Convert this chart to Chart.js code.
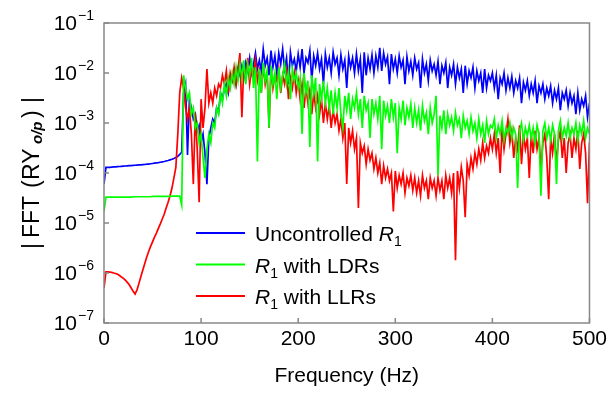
<!DOCTYPE html>
<html>
<head>
<meta charset="utf-8">
<title>|FFT (RY o/p)| spectrum</title>
<script src="https://cdn.jsdelivr.net/npm/chart.js@4.4.1/dist/chart.umd.min.js"></script>
<style>
  html, body { margin: 0; padding: 0; background: #fff; }
  #wrap { width: 611px; height: 395px; }
</style>
</head>
<body>
<div id="wrap"><canvas id="fftChart" width="611" height="395"></canvas></div>
<script>
// ----------------------------
// 1. Data (one value every 2 Hz from 0 to 500 Hz)
// ----------------------------
const FREQ_STEP = 2;
const FREQ = Array.from({ length: 251 }, (_, i) => i * FREQ_STEP);

const BLUE_UNCONTROLLED = [
  6e-5, 1.3e-4, 1.3e-4, 1.3e-4, 1.31e-4, 1.32e-4, 1.33e-4, 1.34e-4, 1.35e-4, 1.36e-4,
  1.37e-4, 1.38e-4, 1.39e-4, 1.4e-4, 1.41e-4, 1.42e-4, 1.43e-4, 1.44e-4, 1.45e-4, 1.46e-4,
  1.47e-4, 1.48e-4, 1.5e-4, 1.51e-4, 1.53e-4, 1.55e-4, 1.57e-4, 1.59e-4, 1.61e-4, 1.64e-4,
  1.67e-4, 1.7e-4, 1.74e-4, 1.78e-4, 1.83e-4, 1.88e-4, 1.95e-4, 2.03e-4, 2.15e-4, 2.35e-4,
  2.6e-4, 4e-3, 6e-3, 2.3e-4, 3e-3, 2e-3, 1.2e-3, 1.5e-3, 7e-4, 9e-4,
  4e-4, 6e-4, 2.5e-4, 6e-5, 5e-4, 8e-4, 1.2e-3, 1e-3, 2e-3, 1.6e-3,
  4e-3, 3e-3, 5e-3, 6e-3, 4e-3, 8e-3, 7e-3, 1e-2, 6e-3, 1.2e-2,
  9e-3, 1.4e-2, 8e-3, 1.6e-2, 1.1e-2, 2e-2, 1e-2, 1.5e-2, 2.5e-2, 1.2e-2,
  1.8e-2, 1.1e-2, 3e-2, 1.4e-2, 2e-2, 9e-3, 2.8e-2, 1.3e-2, 2.2e-2, 1e-2,
  2.5e-2, 1.5e-2, 3e-2, 1.2e-2, 2e-2, 6e-3, 2.6e-2, 1.4e-2, 1.9e-2, 1.1e-2,
  2.4e-2, 1.3e-2, 3e-2, 1e-2, 2e-2, 1.6e-2, 2.8e-2, 7e-3, 2.2e-2, 1.4e-2,
  2.5e-2, 1.2e-2, 1.9e-2, 6e-3, 2.4e-2, 1.3e-2, 2e-2, 1e-2, 2.6e-2, 1.5e-2,
  2e-2, 9e-3, 2.3e-2, 1.2e-2, 1.8e-2, 5e-3, 2.2e-2, 1.3e-2, 2e-2, 1e-2,
  2.4e-2, 1.1e-2, 1.9e-2, 4e-3, 2.6e-2, 9e-3, 2e-2, 1.2e-2, 2.3e-2, 1e-2,
  2.2e-2, 1.3e-2, 3.2e-2, 1.1e-2, 2.5e-2, 1.5e-2, 2.1e-2, 6e-3, 2.4e-2, 1.2e-2,
  1.9e-2, 1e-2, 2.2e-2, 1.3e-2, 1.8e-2, 6e-3, 2.1e-2, 1.1e-2, 1.7e-2, 9e-3,
  2e-2, 1.2e-2, 1.6e-2, 5e-3, 1.9e-2, 1e-2, 1.5e-2, 7e-3, 1.8e-2, 1.1e-2,
  1.5e-2, 9e-3, 1.7e-2, 6e-3, 1.4e-2, 1e-2, 1.6e-2, 5e-3, 1.3e-2, 9e-3,
  1.5e-2, 6e-3, 1.3e-2, 8e-3, 1.2e-2, 4e-3, 1.4e-2, 6e-3, 1.1e-2, 8e-3,
  1.3e-2, 5e-3, 1.1e-2, 7e-3, 1e-2, 4e-3, 1.2e-2, 5e-3, 9e-3, 7e-3,
  1e-2, 5e-3, 9e-3, 3e-3, 8e-3, 6e-3, 1e-2, 4.5e-3, 8e-3, 5e-3,
  8.5e-3, 4e-3, 7e-3, 5e-3, 8e-3, 2.5e-3, 6.5e-3, 4.5e-3, 7e-3, 3.5e-3,
  6e-3, 4e-3, 7e-3, 2.5e-3, 5.5e-3, 4e-3, 6e-3, 3e-3, 5e-3, 3.5e-3,
  5.5e-3, 2.5e-3, 4.5e-3, 3e-3, 5e-3, 1.8e-3, 4e-3, 3e-3, 4.5e-3, 2.2e-3,
  4e-3, 2.5e-3, 3.5e-3, 1.5e-3, 4e-3, 1.8e-3, 3e-3, 2.2e-3, 3.5e-3, 1.3e-3,
  2.5e-3
];

const GREEN_LDR = [
  1.7e-5, 3.3e-5, 3.3e-5, 3.3e-5, 3.3e-5, 3.3e-5, 3.3e-5, 3.3e-5, 3.3e-5, 3.3e-5,
  3.3e-5, 3.3e-5, 3.3e-5, 3.3e-5, 3.3e-5, 3.35e-5, 3.35e-5, 3.35e-5, 3.35e-5, 3.35e-5,
  3.35e-5, 3.35e-5, 3.35e-5, 3.35e-5, 3.35e-5, 3.4e-5, 3.4e-5, 3.4e-5, 3.4e-5, 3.4e-5,
  3.4e-5, 3.4e-5, 3.4e-5, 3.4e-5, 3.4e-5, 3.45e-5, 3.45e-5, 3.45e-5, 3.45e-5, 3.45e-5,
  2.3e-5, 9e-3, 5e-3, 3e-3, 4e-3, 1.5e-3, 2e-3, 8e-4, 1e-3, 4e-4,
  6e-4, 2e-4, 8e-5, 3e-4, 6e-4, 4e-4, 1e-3, 8e-4, 2e-3, 1.5e-3,
  4e-3, 2.5e-3, 6e-3, 3.5e-3, 8e-3, 5e-3, 1e-2, 6e-3, 1.3e-2, 7e-3,
  1.5e-2, 8e-3, 1.8e-2, 6e-3, 1.5e-2, 9e-3, 2e-2, 5e-3, 1.3e-2, 1.7e-4,
  1.2e-2, 4e-3, 1.6e-2, 7e-3, 1.1e-2, 8e-4, 1.4e-2, 6e-3, 1e-2, 3e-3,
  1.3e-2, 5e-3, 9e-3, 1.5e-2, 6e-3, 1.1e-2, 3e-3, 1.2e-2, 7e-3, 1e-2,
  5e-3, 8e-3, 6e-4, 1e-2, 4e-3, 7e-3, 3.3e-4, 9e-3, 4e-3, 8e-3,
  1.7e-4, 6e-3, 3e-3, 7e-3, 2.5e-3, 5e-3, 2e-3, 4.5e-3, 1.5e-3, 4e-3,
  2e-3, 5e-3, 1.5e-3, 8e-4, 3.5e-3, 1.8e-3, 4e-3, 1.2e-3, 3e-3, 2e-3,
  4e-3, 1.5e-3, 3e-3, 8e-4, 3.5e-3, 1.8e-3, 2.5e-3, 5e-4, 3e-3, 1.5e-3,
  2.5e-3, 1.2e-3, 3.5e-3, 3e-4, 2.8e-3, 1.4e-3, 2.2e-3, 1e-3, 3e-3, 1.3e-3,
  2.5e-3, 2.5e-4, 2e-3, 1.2e-3, 2.8e-3, 9e-4, 2e-3, 1.3e-3, 2.4e-3, 8e-4,
  2e-3, 1e-3, 1.8e-3, 7e-4, 2.2e-3, 1.1e-3, 1.6e-3, 6e-4, 2e-3, 1e-3,
  1.5e-3, 3.5e-3, 9e-5, 1.4e-3, 8e-4, 1.8e-3, 6e-4, 1.5e-3, 9e-4, 1.3e-3,
  7e-4, 1.6e-3, 9e-4, 1.2e-3, 5e-4, 1.4e-3, 8e-4, 1.1e-3, 6e-4, 1.3e-3,
  7e-4, 1e-3, 5e-4, 1.2e-3, 6e-4, 9e-4, 4e-4, 1.1e-3, 6e-4, 9e-4,
  8e-4, 1.2e-3, 5e-4, 9e-4, 6e-4, 1.1e-3, 4.5e-4, 8e-4, 6e-4, 1e-3,
  5e-4, 8e-4, 6e-4, 5e-5, 7e-4, 1e-3, 4.5e-4, 8e-4, 5.5e-4, 9e-4,
  5e-4, 8e-4, 4e-4, 9e-4, 6e-4, 3.5e-5, 7e-4, 1e-3, 5e-4, 8e-4,
  4.5e-4, 9e-4, 6e-4, 6e-5, 7e-4, 1.1e-3, 5e-4, 8e-4, 5.5e-4, 1e-3,
  5e-4, 8e-4, 6e-4, 1e-3, 4.5e-4, 9e-4, 6e-4, 1.1e-3, 5e-4, 8e-4,
  6e-4
];

const RED_LLR = [
  5e-7, 1.05e-6, 1.05e-6, 1.04e-6, 1.03e-6, 1e-6, 9.8e-7, 9.4e-7, 8.9e-7, 8.3e-7,
  7.8e-7, 7.2e-7, 6.5e-7, 5.8e-7, 5e-7, 4.3e-7, 3.8e-7, 4.6e-7, 6.2e-7, 8.5e-7,
  1.15e-6, 1.55e-6, 2.1e-6, 2.7e-6, 3.4e-6, 4.2e-6, 5.2e-6, 6.3e-6, 7.8e-6, 9.6e-6,
  1.2e-5, 1.5e-5, 2e-5, 2.6e-5, 3.5e-5, 5e-5, 8e-5, 1.3e-4, 6e-4, 4e-3,
  8e-3, 5e-3, 2e-3, 1.2e-3, 2e-3, 6e-4, 6e-5, 1.6e-3, 3e-4, 2.6e-5,
  3e-3, 8e-4, 2e-3, 1.2e-2, 2.5e-3, 4e-3, 2.5e-3, 5e-3, 3.5e-3, 6e-3,
  5e-3, 9e-3, 6e-3, 1.1e-2, 4e-3, 1e-2, 7e-3, 1.3e-2, 6e-3, 1.2e-2,
  2.5e-2, 1.3e-3, 1.4e-2, 8e-3, 2e-2, 6e-3, 1.2e-2, 9e-3, 1.8e-2, 7e-3,
  1.1e-2, 4e-3, 1.5e-2, 6e-3, 1e-2, 8e-4, 1.3e-2, 5e-3, 9e-3, 7e-3,
  1.2e-2, 4e-3, 9e-3, 6e-3, 1.1e-2, 3e-3, 8e-3, 5e-3, 1e-2, 4e-3,
  7e-3, 3e-3, 6e-3, 2e-3, 5e-3, 2.5e-3, 4.5e-3, 1.5e-3, 4e-3, 2e-3,
  3.5e-3, 1.5e-3, 3e-3, 1e-3, 2.5e-3, 1.2e-3, 2.2e-3, 8e-4, 1.8e-3, 1e-3,
  1.5e-3, 7e-4, 1.2e-3, 5e-4, 1e-3, 6e-5, 8e-4, 4e-4, 7e-4, 3e-4,
  5e-4, 2e-5, 4e-4, 2.5e-4, 3.5e-4, 1.5e-4, 3e-4, 1.8e-4, 2.5e-4, 1.2e-4,
  2e-4, 1e-4, 1.6e-4, 6e-5, 1.4e-4, 8e-5, 1.2e-4, 7e-5, 1e-4, 1.7e-5,
  1.1e-4, 5e-5, 9e-5, 6e-5, 1e-4, 4e-5, 8e-5, 5.5e-5, 9e-5, 4.5e-5,
  8e-5, 4e-5, 7e-5, 3.5e-5, 9e-5, 5e-5, 7e-5, 3e-5, 8e-5, 5e-5,
  7e-5, 3.5e-5, 8e-5, 4.5e-5, 7e-5, 3e-5, 9e-5, 5e-5, 8e-5, 4e-5,
  1e-4, 1.8e-6, 1.1e-4, 5e-5, 1.3e-4, 7e-5, 1.3e-5, 1.5e-4, 9e-5, 2e-4,
  1.2e-4, 2.5e-4, 1.5e-4, 3e-4, 1.8e-4, 4e-4, 2e-4, 3.5e-4, 2.5e-4, 5e-4,
  3e-4, 6e-4, 2.5e-4, 5e-4, 1e-4, 8e-4, 3e-4, 6e-4, 1.2e-3, 4e-4,
  7e-4, 2e-4, 5e-4, 3e-4, 9e-4, 1.5e-4, 6e-4, 3e-4, 5e-4, 8e-5,
  6e-4, 2.5e-4, 7e-4, 3e-4, 5e-4, 1.2e-4, 4e-4, 6e-4, 2e-4, 3e-5,
  5e-4, 2.5e-4, 6e-4, 1.5e-4, 4.5e-4, 7e-4, 2e-4, 5e-4, 1e-4, 4e-4,
  6e-4, 2e-4, 5e-4, 3e-4, 7e-4, 1.2e-4, 4e-4, 6e-4, 2.5e-4, 2.5e-5,
  4e-4
];

const X_TICKS = [0, 100, 200, 300, 400, 500];
const Y_TICKS = [1e-7, 1e-6, 1e-5, 1e-4, 1e-3, 1e-2, 1e-1];
const Y_TICK_EXPONENTS = ['\u22127', '\u22126', '\u22125', '\u22124', '\u22123', '\u22122', '\u22121'];

const LEGEND_LABELS = ['Uncontrolled R1', 'R1 with LDRs', 'R1 with LLRs'];
const COLORS = ['#0000ff', '#00ff00', '#ff0000'];

const FONT = '"Liberation Sans", Arial, Helvetica, sans-serif';

// ----------------------------
// 2. Helpers
// ----------------------------
function makeSeries(label, values, color, order) {
    return {
        label: label,
        data: values.map((v, i) => ({ x: FREQ[i], y: v })),
        borderColor: color,
        backgroundColor: color,
        borderWidth: 1.7,
        pointRadius: 0,
        tension: 0,
        fill: false,
        order: order
    };
}

// draws a run of text pieces: n = normal, i = italic, sub = subscript
function drawPieces(ctx, pieces, x, y) {
    pieces.forEach(p => {
        let dy = 0;
        if (p.s === 'n') ctx.font = `21px ${FONT}`;
        if (p.s === 'i') ctx.font = `italic 21px ${FONT}`;
        if (p.s === 'sub') { ctx.font = `14px ${FONT}`; dy = 5; }
        ctx.fillText(p.t, x, y + dy);
        x += ctx.measureText(p.t).width;
    });
}

// ----------------------------
// 3. Frame, inward ticks, y labels, y title and legend
// ----------------------------
const frameAndLabels = {
    id: 'frameAndLabels',
    afterDraw(chart) {
        const { ctx, chartArea: a, scales: { x, y } } = chart;
        ctx.save();

        // box
        ctx.strokeStyle = '#888';
        ctx.lineWidth = 1.5;
        ctx.strokeRect(a.left, a.top, a.right - a.left, a.bottom - a.top);

        // ticks pointing into the plot
        ctx.beginPath();
        X_TICKS.forEach(v => {
            const px = x.getPixelForValue(v);
            ctx.moveTo(px, a.bottom);
            ctx.lineTo(px, a.bottom - 5);
        });
        Y_TICKS.forEach(v => {
            const py = y.getPixelForValue(v);
            ctx.moveTo(a.left, py);
            ctx.lineTo(a.left + 5, py);
        });
        ctx.stroke();

        // y tick labels 10^n
        ctx.fillStyle = '#000';
        ctx.textBaseline = 'alphabetic';
        Y_TICKS.forEach((v, i) => {
            const py = y.getPixelForValue(v);
            ctx.font = `21px ${FONT}`;
            ctx.textAlign = 'right';
            ctx.fillText('10', a.left - 27, py + 7);
            ctx.font = `14px ${FONT}`;
            ctx.textAlign = 'left';
            ctx.fillText(Y_TICK_EXPONENTS[i], a.left - 26, py - 3);
        });

        // y axis title, rotated
        ctx.save();
        ctx.translate(39, 257);
        ctx.rotate(-Math.PI / 2);
        ctx.textAlign = 'left';
        const titleParts = [
            { t: '|', at: 8, font: `23px ${FONT}`, dy: 0 },
            { t: 'FFT', at: 19, font: `23px ${FONT}`, dy: 0 },
            { t: '(', at: 69, font: `23px ${FONT}`, dy: 0 },
            { t: 'RY', at: 77, font: `23px ${FONT}`, dy: 0 },
            { t: 'o/p', at: 113, font: `bold italic 15px ${FONT}`, dy: 3 },
            { t: ')', at: 139, font: `23px ${FONT}`, dy: 0 },
            { t: '|', at: 154, font: `23px ${FONT}`, dy: 0 }
        ];
        titleParts.forEach(p => {
            ctx.font = p.font;
            ctx.fillText(p.t, p.at, p.dy);
        });
        ctx.restore();

        // legend
        const rows = [
            [{ t: 'Uncontrolled ', s: 'n' }, { t: 'R', s: 'i' }, { t: '1', s: 'sub' }],
            [{ t: 'R', s: 'i' }, { t: '1', s: 'sub' }, { t: ' with LDRs', s: 'n' }],
            [{ t: 'R', s: 'i' }, { t: '1', s: 'sub' }, { t: ' with LLRs', s: 'n' }]
        ];
        rows.forEach((row, i) => {
            const ly = 233 + i * 31.5;
            ctx.strokeStyle = COLORS[i];
            ctx.lineWidth = 2;
            ctx.beginPath();
            ctx.moveTo(196, ly);
            ctx.lineTo(245, ly);
            ctx.stroke();
            ctx.fillStyle = '#000';
            drawPieces(ctx, row, 255, ly + 8);
        });

        ctx.restore();
    }
};

// ----------------------------
// 4. Chart
// ----------------------------
const ctx = document.getElementById('fftChart').getContext('2d');

new Chart(ctx, {
    type: 'line',
    data: {
        datasets: [
            makeSeries(LEGEND_LABELS[0], BLUE_UNCONTROLLED, COLORS[0], 3),
            makeSeries(LEGEND_LABELS[1], GREEN_LDR, COLORS[1], 1),
            makeSeries(LEGEND_LABELS[2], RED_LLR, COLORS[2], 2)
        ]
    },
    options: {
        responsive: false,
        animation: false,
        devicePixelRatio: 1,
        layout: { padding: { top: 23, right: 21, left: 0, bottom: 0 } },
        plugins: {
            legend: { display: false },
            tooltip: { enabled: false }
        },
        scales: {
            x: {
                type: 'linear',
                min: 0,
                max: 500,
                afterBuildTicks: s => { s.ticks = X_TICKS.map(v => ({ value: v })); },
                afterFit: s => { s.height = 72; },
                ticks: {
                    font: { family: FONT, size: 21 },
                    color: '#000',
                    padding: 4,
                    maxRotation: 0,
                    autoSkip: false
                },
                grid: { display: false, drawTicks: false },
                border: { display: false },
                title: {
                    display: true,
                    text: 'Frequency (Hz)',
                    font: { family: FONT, size: 21 },
                    color: '#000',
                    padding: { top: 0, bottom: 6 }
                }
            },
            y: {
                type: 'logarithmic',
                min: 1e-7,
                max: 1e-1,
                afterBuildTicks: s => { s.ticks = Y_TICKS.map(v => ({ value: v })); },
                afterFit: s => { s.width = 104; },
                ticks: { display: false },
                grid: { display: false, drawTicks: false },
                border: { display: false }
            }
        }
    },
    plugins: [frameAndLabels]
});
</script>
</body>
</html>
